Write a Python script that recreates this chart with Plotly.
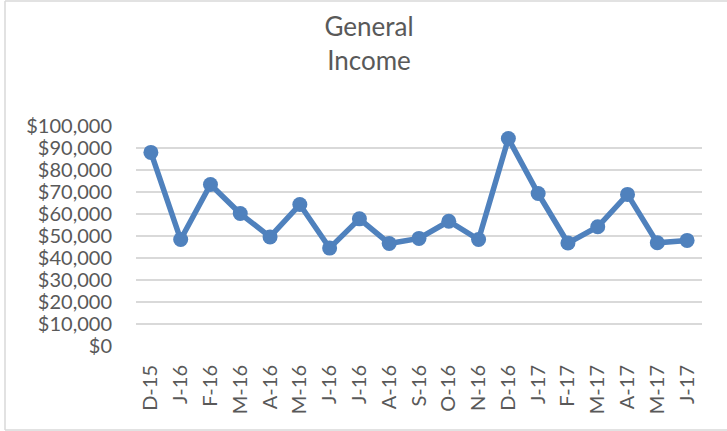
import plotly.graph_objects as go

# Monthly general income, Dec 2015 - Jun 2017
months = ["D-15", "J-16", "F-16", "M-16", "A-16", "M-16", "J-16", "J-16", "A-16",
          "S-16", "O-16", "N-16", "D-16", "J-17", "F-17", "M-17", "A-17", "M-17", "J-17"]
income = [88000, 48400, 73400, 60200, 49600, 64300, 44500, 57800, 46600,
          48900, 56700, 48400, 94300, 69300, 46800, 54200, 68900, 46900, 48000]
y_ticks = list(range(0, 100001, 10000))
y_tick_text = ["${:,}".format(v) for v in y_ticks]

W, H = 727, 431
ML, MR, MT, MB = 136, 25, 126, 85

LINE_BLUE = "#4f81bd"
GRID = "#d9d9d9"
TEXT = "#595959"
FONT = "Lato"

x_pos = list(range(len(months)))

fig = go.Figure(
    go.Scatter(
        x=x_pos,
        y=income,
        mode="lines+markers",
        line=dict(color=LINE_BLUE, width=5.5),
        marker=dict(color=LINE_BLUE, size=15),
        hoverinfo="skip",
    )
)

# chart border (left, top and bottom edges), in paper coordinates
pw = W - ML - MR
ph = H - MT - MB
def px_x(p):
    return (p - ML) / pw
def px_y(p):
    return (H - MB - p) / ph

border = dict(color=GRID, width=1.5)
fig.add_shape(type="line", xref="paper", yref="paper",
              x0=px_x(5), x1=px_x(760), y0=px_y(1), y1=px_y(1), line=border)
fig.add_shape(type="line", xref="paper", yref="paper",
              x0=px_x(5), x1=px_x(760), y0=px_y(430), y1=px_y(430), line=border)
fig.add_shape(type="line", xref="paper", yref="paper",
              x0=px_x(5), x1=px_x(5), y0=px_y(1), y1=px_y(430), line=border)

fig.update_layout(
    width=W,
    height=H,
    margin=dict(l=ML, r=MR, t=MT, b=MB, pad=0),
    paper_bgcolor="white",
    plot_bgcolor="white",
    showlegend=False,
    font=dict(family=FONT, color=TEXT),
    title=dict(
        text="General<br>Income",
        font=dict(family=FONT, size=26, color=TEXT),
        x=369 / W,
        xanchor="center",
        xref="container",
        yref="container",
        y=1 - 36 / H,
        yanchor="top",
    ),
    xaxis=dict(
        range=[-0.5, len(months) - 0.5],
        tickmode="array",
        tickvals=x_pos,
        ticktext=months,
        tickangle=-90,
        tickfont=dict(family=FONT, size=20, color=TEXT),
        showgrid=False,
        zeroline=False,
        showline=False,
        ticks="",
        ticklabelstandoff=14,
        fixedrange=True,
    ),
    yaxis=dict(
        range=[0, 100000],
        tickmode="array",
        tickvals=y_ticks,
        ticktext=y_tick_text,
        tickfont=dict(family=FONT, size=20, color=TEXT),
        showgrid=True,
        gridcolor=GRID,
        gridwidth=1.5,
        zeroline=False,
        showline=False,
        ticks="",
        ticklabelstandoff=23,
        fixedrange=True,
    ),
)

fig.write_html("out.html")
